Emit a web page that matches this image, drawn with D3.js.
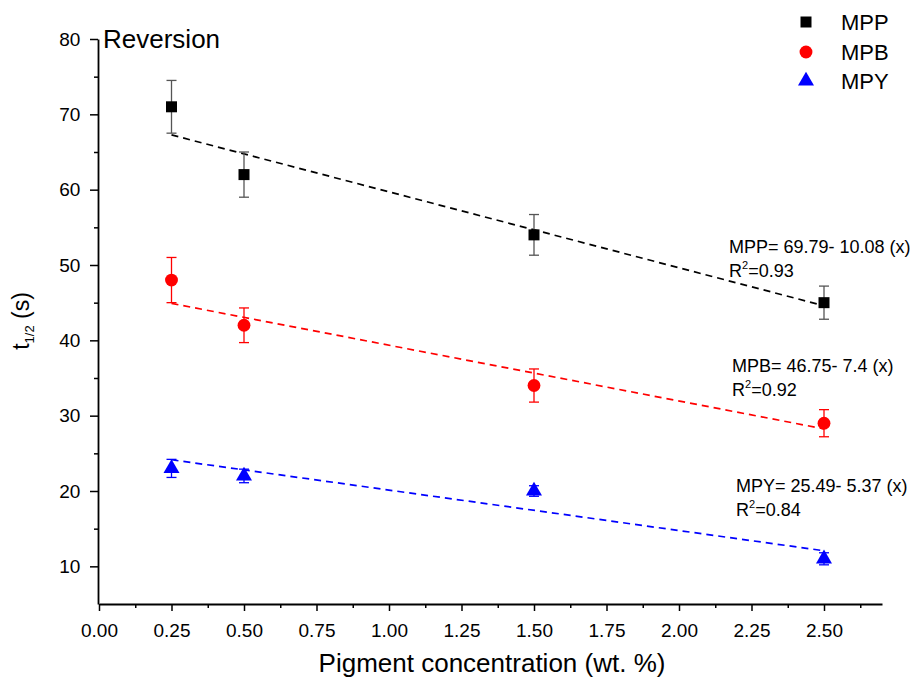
<!DOCTYPE html>
<html>
<head>
<meta charset="utf-8">
<script src="https://cdn.jsdelivr.net/npm/d3@7"></script>
<style>
  body { margin: 0; background: #fff; }
  text { font-family: "Liberation Sans", Arial, sans-serif; fill: #000; }
</style>
</head>
<body>
<svg id="chart"></svg>
<script>
// data
var conc = [0.25, 0.5, 1.5, 2.5];
var mppVals = [71, 62, 54, 45];
var mppErr = [3.5, 3, 2.7, 2.2];
var mpbVals = [48, 42, 34, 29];
var mpbErr = [3, 2.3, 2.2, 1.8];
var mpyVals = [23, 22, 20, 11];
var mpyErr = [1.2, 0.9, 0.7, 0.8];
var xTicks = [0, 0.25, 0.5, 0.75, 1, 1.25, 1.5, 1.75, 2, 2.25, 2.5];
var yTicks = [10, 20, 30, 40, 50, 60, 70, 80];

var series = [
    { name: "MPP", vals: mppVals, err: mppErr, color: "#000", errColor: "#555", shape: d3.symbolSquare, size: 121,
      fit: [69.79, -10.08], eq: "MPP= 69.79- 10.08 (x)", r2: "0.93", lab: [729, 253] },
    { name: "MPB", vals: mpbVals, err: mpbErr, color: "#f00", errColor: "#f00", shape: d3.symbolCircle, size: 130,
      fit: [46.75, -7.4], eq: "MPB= 46.75- 7.4 (x)", r2: "0.92", lab: [732, 372] },
    { name: "MPY", vals: mpyVals, err: mpyErr, color: "#00f", errColor: "#00f", shape: d3.symbolTriangle, size: 111,
      fit: [25.49, -5.37], eq: "MPY= 25.49- 5.37 (x)", r2: "0.84", lab: [736, 492] }
];

var width = 914, height = 684;
var svg = d3.select("#chart").attr("width", width).attr("height", height);

var x = d3.scaleLinear().domain([0, 2.7]).range([99, 882]);
var y = d3.scaleLinear().domain([5, 80]).range([604, 39]);

// axes
var xAxis = svg.append("g").attr("transform", "translate(0,604)")
    .call(d3.axisBottom(x).tickValues(xTicks).tickFormat(d3.format(".2f")).tickSize(7).tickSizeOuter(0));
svg.append("g").attr("transform", "translate(0,604)")
    .call(d3.axisBottom(x).tickValues(d3.range(0.125, 2.7, 0.25)).tickFormat("").tickSize(4).tickSizeOuter(0))
    .select(".domain").remove();
var yAxis = svg.append("g").attr("transform", "translate(98,0)")
    .call(d3.axisLeft(y).tickValues(yTicks).tickSize(8).tickSizeOuter(0));
svg.append("g").attr("transform", "translate(98,0)")
    .call(d3.axisLeft(y).tickValues(d3.range(15, 80, 10)).tickFormat("").tickSize(4).tickSizeOuter(0))
    .select(".domain").remove();

svg.selectAll(".domain").attr("stroke-width", 1.8);
svg.selectAll(".tick line").attr("stroke-width", 1.5);
xAxis.selectAll(".tick text").attr("font-size", 19).attr("dy", "1.2em");
yAxis.selectAll(".tick text").attr("font-size", 19).attr("dx", "-0.35em");

// fit lines
series.forEach(function (s) {
    var f = function (v) { return s.fit[0] + s.fit[1] * v; };
    svg.append("line")
        .attr("x1", x(conc[0])).attr("y1", y(f(conc[0])))
        .attr("x2", x(conc[3])).attr("y2", y(f(conc[3])))
        .attr("stroke", s.color).attr("stroke-width", 1.7)
        .attr("stroke-dasharray", "7,5");
});

// error bars and markers
series.forEach(function (s) {
    var g = svg.append("g");
    conc.forEach(function (c, i) {
        var cx = x(c), top = y(s.vals[i] + s.err[i]), bot = y(s.vals[i] - s.err[i]);
        g.append("line").attr("x1", cx).attr("x2", cx).attr("y1", top).attr("y2", bot)
            .attr("stroke", s.errColor).attr("stroke-width", 1.3);
        [top, bot].forEach(function (yy) {
            g.append("line").attr("x1", cx - 5).attr("x2", cx + 5).attr("y1", yy).attr("y2", yy)
                .attr("stroke", s.errColor).attr("stroke-width", 1.3);
        });
        g.append("path")
            .attr("d", d3.symbol().type(s.shape).size(s.size)())
            .attr("transform", "translate(" + cx + "," + y(s.vals[i]) + ")")
            .attr("fill", s.color);
    });

    // equation labels
    svg.append("text").attr("x", s.lab[0]).attr("y", s.lab[1]).attr("font-size", 18).text(s.eq);
    var r = svg.append("text").attr("x", s.lab[0]).attr("y", s.lab[1] + 24).attr("font-size", 18);
    r.append("tspan").text("R");
    r.append("tspan").attr("font-size", 11).attr("dy", -8).text("2");
    r.append("tspan").attr("dy", 8).text("=" + s.r2);
});

// legend
series.forEach(function (s, i) {
    var ly = [22, 52, 81][i];
    svg.append("path")
        .attr("d", d3.symbol().type(s.shape).size(s.size)())
        .attr("transform", "translate(806," + ly + ")")
        .attr("fill", s.color);
    svg.append("text").attr("x", 841).attr("y", ly + 8).attr("font-size", 22).text(s.name);
});

// titles
svg.append("text").attr("x", 103).attr("y", 48).attr("font-size", 26).text("Reversion");
svg.append("text").attr("x", 492).attr("y", 672).attr("text-anchor", "middle").attr("font-size", 26)
    .text("Pigment concentration (wt. %)");
var yt = svg.append("text").attr("transform", "translate(29,321) rotate(-90)")
    .attr("text-anchor", "middle").attr("font-size", 23);
yt.append("tspan").text("t");
yt.append("tspan").attr("font-size", 13).attr("dy", 5).text("1/2");
yt.append("tspan").attr("dy", -5).text(" (s)");
</script>
</body>
</html>
